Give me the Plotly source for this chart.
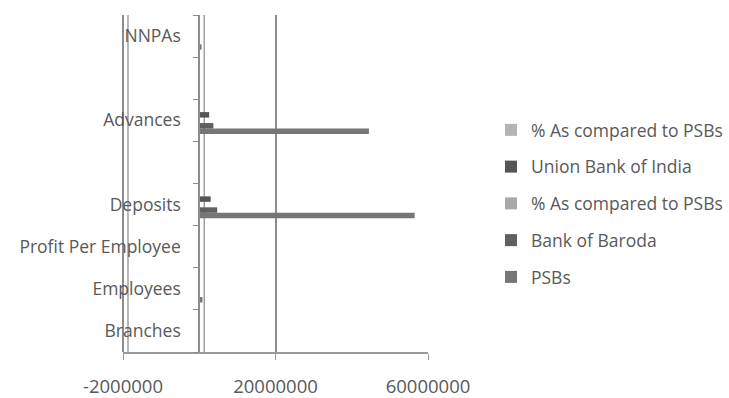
import plotly.graph_objects as go

categories = ["Branches", "Employees", "Profit Per Employee", "Deposits", " ", "Advances", "  ", "NNPAs"]
psbs = [77000, 840000, 3.5, 56500000, None, 44500000, None, 600000]
bank_of_baroda = [4900, 43000, 10.9, 4700000, None, 3700000, None, 60000]
pct_bob = [6.4, 5.1, 3.1, 8.3, None, 8.3, None, 5.2]
union_bank = [4100, 33000, 6.3, 3000000, None, 2600000, None, 45000]
pct_union = [5.3, 3.9, 1.8, 5.3, None, 5.8, None, 4.1]
x_tickvals = [-20000000, 20000000, 60000000]
x_ticktext = ["-2000000", "20000000", "60000000"]

series = [
    ("PSBs", psbs, "#767676"),
    ("Bank of Baroda", bank_of_baroda, "#606060"),
    ("% As compared to PSBs", pct_bob, "#a9a9a9"),
    ("Union Bank of India", union_bank, "#555555"),
    ("% As compared to PSBs", pct_union, "#b4b4b4"),
]

fig = go.Figure()
n = len(series)
for i, (name, vals, col) in enumerate(series):
    fig.add_trace(go.Bar(
        y=categories, x=vals, name=name, orientation="h",
        marker=dict(color=col, line=dict(width=0)),
        legendgroup=f"g{i}", legendrank=1000 + (n - i) * 10,
    ))

W, H = 729, 398
L, R, T, B = 123, 301, 15, 46
PW = W - L - R
FONT = "Open Sans, Lato, sans-serif"
LINE = "#8c8c8c"

fig.update_layout(
    width=W, height=H,
    margin=dict(l=L, r=R, t=T, b=B, autoexpand=False),
    paper_bgcolor="white", plot_bgcolor="white",
    barmode="group", bargap=0.35, bargroupgap=0.0,
    font=dict(family=FONT, size=16, color="#595959"),
    showlegend=True,
    legend=dict(
        x=(491 - L) / PW, y=(H - B - 112) / (H - T - B),
        xanchor="left", yanchor="top",
        traceorder="grouped", tracegroupgap=11,
        font=dict(family=FONT, size=17.5, color="#595959"),
        itemwidth=30,
    ),
    xaxis=dict(
        domain=[0, 1],
        range=[-20000000, 60000000],
        tickvals=x_tickvals, ticktext=x_ticktext,
        showgrid=True, gridcolor=LINE, gridwidth=2,
        showline=True, linecolor="#9a9a9a", linewidth=2,
        ticks="outside", ticklen=6, tickcolor="#9a9a9a",
        zeroline=True, zerolinecolor=LINE, zerolinewidth=2,
        ticklabelstandoff=11,
        automargin=False,
        tickfont=dict(family=FONT, size=18.5, color="#595959"),
        fixedrange=True,
    ),
    yaxis=dict(
        type="category",
        categoryorder="array", categoryarray=categories,
        anchor="free", position=0.25,
        showline=True, linecolor=LINE, linewidth=2,
        ticks="outside", tickson="boundaries", ticklen=5, tickcolor=LINE,
        showgrid=False, zeroline=False,
        ticklabelstandoff=14,
        automargin=False,
        tickfont=dict(family=FONT, size=17.5, color="#595959"),
        fixedrange=True,
    ),
    shapes=[
        dict(type="line", xref="x domain", yref="y domain",
             x0=0.25 + 5 / PW, x1=0.25 + 5 / PW, y0=0, y1=1,
             line=dict(color="#a0a0a0", width=1.5), layer="below"),
        dict(type="line", xref="x domain", yref="y domain",
             x0=5 / PW, x1=5 / PW, y0=0, y1=1,
             line=dict(color="#a0a0a0", width=1.5), layer="below"),
        dict(type="line", xref="x domain", yref="y domain",
             x0=0, x1=0, y0=0, y1=1,
             line=dict(color=LINE, width=2), layer="below"),
    ],
)

fig.write_html("out.html")
